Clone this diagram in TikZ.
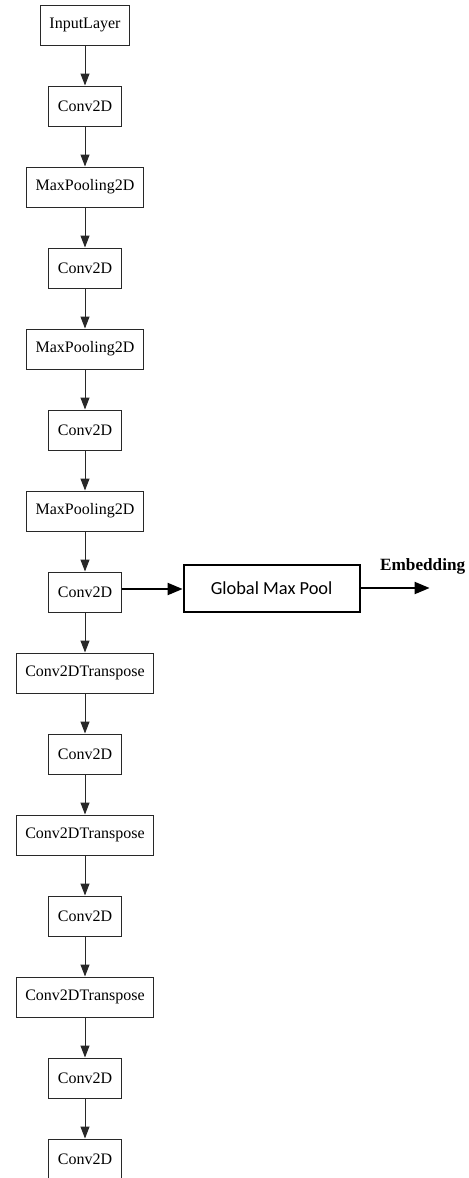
\documentclass[tikz,border=0pt]{standalone}
\usepackage{fontspec}
\setmainfont{Liberation Serif}
\newfontfamily\poolfont{Carlito}
\usetikzlibrary{arrows.meta,positioning}
\definecolor{layergray}{RGB}{40,40,40}
\tikzstyle{layer} = [rectangle, minimum height=20pt, inner xsep=4.5pt, text centered, draw=layergray, line width=0.5pt, font=\fontsize{8}{9.6}\selectfont]
\tikzstyle{flow} = [line width=0.5pt, color=layergray, -{Triangle[length=6pt,width=4.5pt]}]
\tikzstyle{pool} = [rectangle, minimum width=88pt, minimum height=23.5pt, text centered, draw=black, line width=1pt, font=\poolfont\fontsize{9.2}{11}\selectfont]
\tikzstyle{bigarrow} = [line width=1pt, color=black, -{Triangle[length=7.5pt,width=6pt]}]

\begin{document}
\begin{tikzpicture}[node distance=40.5pt]
\useasboundingbox (0,0) rectangle (234pt,-589pt);
\node (input) [layer] at (42.5pt,-12.5pt) {InputLayer};
\node (conv1) [layer, below of=input] {Conv2D};
\node (pool1) [layer, below of=conv1] {MaxPooling2D};
\node (conv2) [layer, below of=pool1] {Conv2D};
\node (pool2) [layer, below of=conv2] {MaxPooling2D};
\node (conv3) [layer, below of=pool2] {Conv2D};
\node (pool3) [layer, below of=conv3] {MaxPooling2D};
\node (conv4) [layer, below of=pool3] {Conv2D};
\node (up1) [layer, below of=conv4] {Conv2DTranspose};
\node (conv5) [layer, below of=up1] {Conv2D};
\node (up2) [layer, below of=conv5] {Conv2DTranspose};
\node (conv6) [layer, below of=up2] {Conv2D};
\node (up3) [layer, below of=conv6] {Conv2DTranspose};
\node (conv7) [layer, below of=up3] {Conv2D};
\node (conv8) [layer, below of=conv7] {Conv2D};

\node (gmp) [pool, right=30.5pt of conv4.south east, anchor=south west] {Global Max Pool};
\coordinate [right=34.5pt of gmp.east] (embed);

\draw[flow] (input) -- (conv1);
\draw[flow] (conv1) -- (pool1);
\draw[flow] (pool1) -- (conv2);
\draw[flow] (conv2) -- (pool2);
\draw[flow] (pool2) -- (conv3);
\draw[flow] (conv3) -- (pool3);
\draw[flow] (pool3) -- (conv4);
\draw[flow] (conv4) -- (up1);
\draw[flow] (up1) -- (conv5);
\draw[flow] (conv5) -- (up2);
\draw[flow] (up2) -- (conv6);
\draw[flow] (conv6) -- (up3);
\draw[flow] (up3) -- (conv7);
\draw[flow] (conv7) -- (conv8);

\draw[bigarrow] ([yshift=1.5pt]conv4.east) -- ([yshift=1.5pt]conv4.east -| gmp.west);
\draw[bigarrow] (gmp.east) -- (embed) node[pos=0.9, above=3pt, font=\bfseries\fontsize{8.6}{10}\selectfont] {Embedding};
\end{tikzpicture}
\end{document}
